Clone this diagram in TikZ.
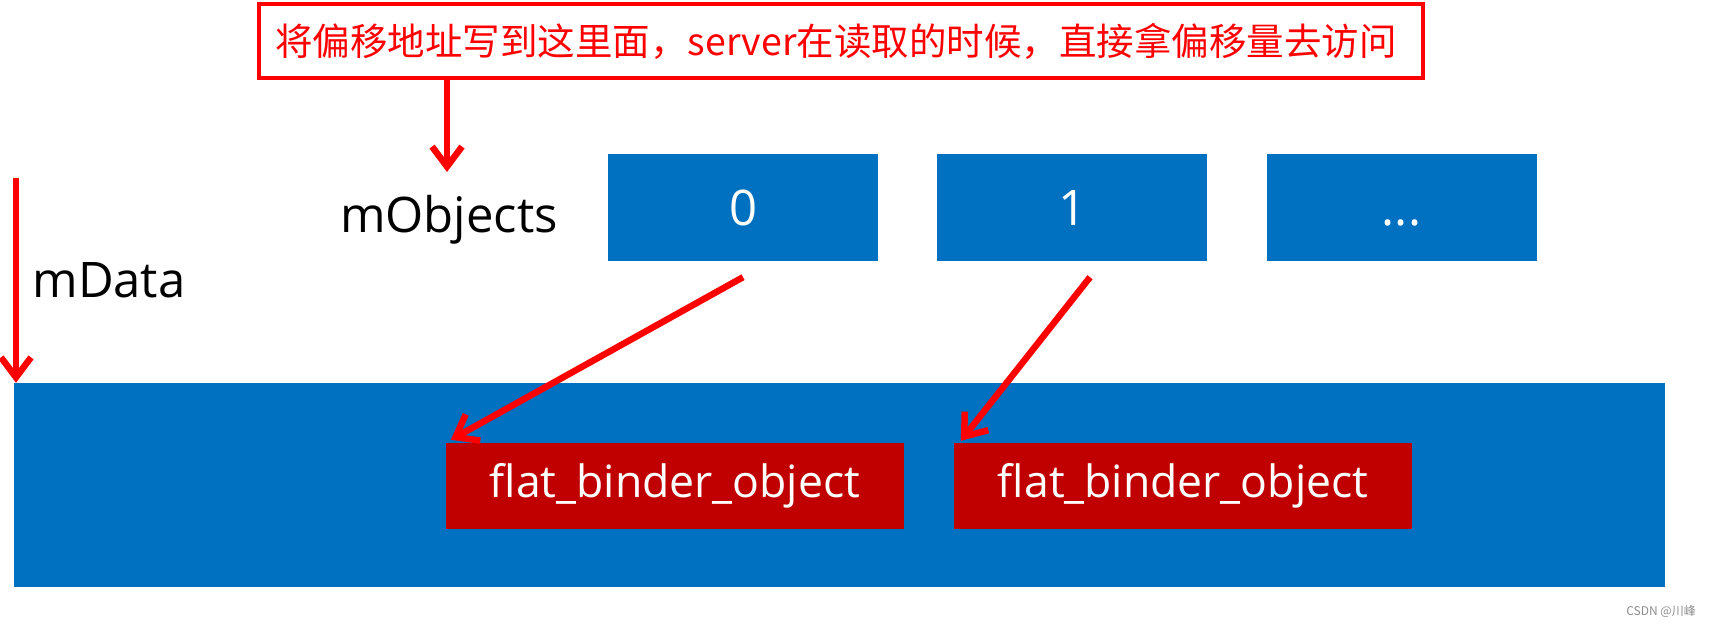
\documentclass[tikz,border=0pt]{standalone}
\usepackage{fontspec}
\newfontfamily\lab{Open Sans}
\newfontfamily\cjk{Noto Sans CJK SC}
\usetikzlibrary{arrows.meta,calc}
\definecolor{boxblue}{HTML}{0070C0}
\definecolor{boxred}{HTML}{C00000}
\definecolor{linered}{HTML}{FF0000}
\definecolor{wmgray}{HTML}{8C8C8C}
\tikzset{
  redarrow/.style={draw=linered, line width=6.5pt, -{Straight Barb[length=20pt,width=30pt]}},
  objbox/.style={fill=boxblue, minimum width=270pt, minimum height=107pt, inner sep=0pt,
    text=white, font=\lab\fontsize{49}{56}\selectfont, text height=35pt, text depth=0pt},
  fbbox/.style={fill=boxred, minimum width=458pt, minimum height=86pt, inner sep=0pt,
    text=white, font=\lab\fontsize{44.5}{52}\selectfont},
  lbl/.style={font=\lab\fontsize{49}{56}\selectfont, inner sep=0pt, anchor=base},
}
\begin{document}
\begin{tikzpicture}[x=1pt,y=-1pt]
\useasboundingbox (0,0) rectangle (1710,625);
% note box
\node[draw=linered, line width=4pt, minimum width=1164pt, minimum height=74pt, inner sep=0pt,
  text=linered, font=\cjk\fontsize{37.5}{44}\selectfont] (note) at (841,41)
  {\hspace*{-10pt}将偏移地址写到这里面，server在读取的时候，直接拿偏移量去访问};
% labels
\node[lbl] (mobj) at (449,232) {mObjects};
\node[lbl] (mdata) at (109,297) {mData};
% object boxes
\node[objbox] (obj0) at (743,207.5) {0};
\node[objbox] (obj1) at (1072,207.5) {1};
\node[objbox] (obj2) at (1401.5,207.5) {...};
% data block
\node[fill=boxblue, minimum width=1651pt, minimum height=204pt, inner sep=0pt] (data) at (839.5,485) {};
\node[fbbox] (fb1) at (675,486) {flat\_binder\_object};
\node[fbbox] (fb2) at (1183,486) {flat\_binder\_object};
% arrows
\coordinate (t1) at (447,172);
\draw[redarrow] (note.south -| t1) -- (t1);
\coordinate (l0) at (16,178);
\draw[redarrow] (l0) -- (l0 |- data.north);
\draw[redarrow] ($(obj0.south)+(0,16)$) -- ($(fb1.north west)+(5,-3)$);
\draw[redarrow] ($(obj1.south)+(18,16)$) -- ($(fb2.north west)+(7,-2)$);
% watermark
\node[text=wmgray, font=\cjk\fontsize{12}{14}\selectfont, inner sep=0pt] (wm) at (1661,611) {CSDN @川峰};
\end{tikzpicture}
\end{document}
